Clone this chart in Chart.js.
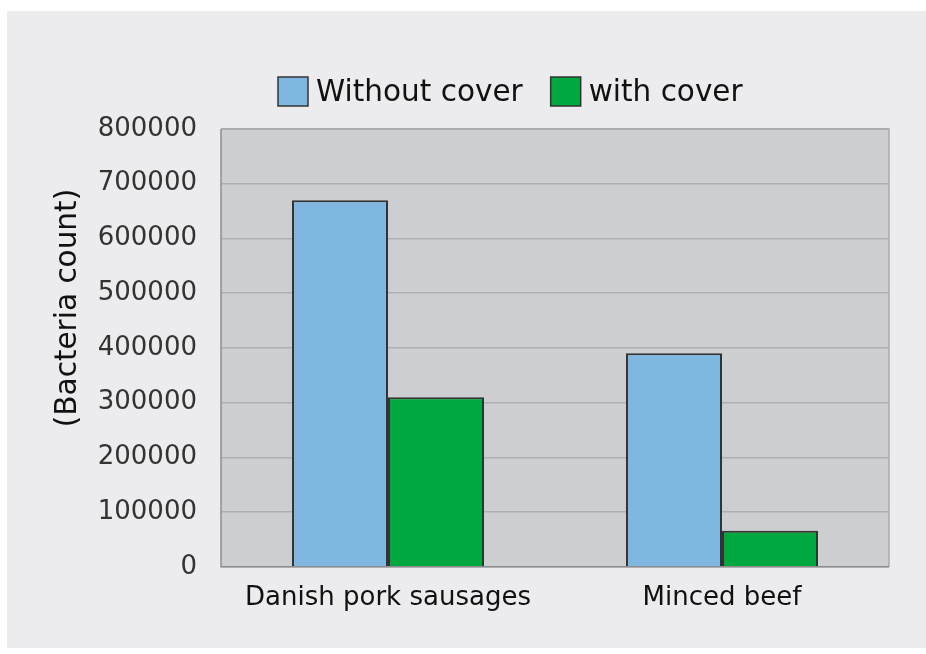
<!DOCTYPE html>
<html>
<head>
<meta charset="utf-8">
<script src="https://cdn.jsdelivr.net/npm/chart.js@4"></script>
<style>
    html, body { margin: 0; padding: 0; background: #ffffff; }
    #panel { position: absolute; left: 7px; top: 11px; width: 919px; height: 637px; background: #ececee; }
</style>
</head>
<body>
<div id="panel"><canvas id="bacteriaChart" width="919" height="637"></canvas></div>
<script>
const categories = ['Danish pork sausages', 'Minced beef'];
const withoutCover = [670000, 390000];
const withCover = [310000, 66000];
const yTicks = [0, 100000, 200000, 300000, 400000, 500000, 600000, 700000, 800000];
const yTitle = '(Bacteria count)';

const FONT = 'DejaVu Sans';

// Gray plot background and frame
const plotFrame = {
    id: 'plotFrame',
    beforeDraw(chart) {
        const { ctx, chartArea: a } = chart;
        ctx.save();
        ctx.fillStyle = '#cdced2';
        ctx.fillRect(a.left, a.top, a.right - a.left, a.bottom - a.top);
        ctx.restore();
    },
    afterDatasetsDraw(chart) {
        const { ctx, chartArea: a } = chart;
        ctx.save();
        ctx.lineWidth = 1.5;
        ctx.strokeStyle = '#a9aaad';
        ctx.beginPath();
        ctx.moveTo(a.left, a.top);
        ctx.lineTo(a.right, a.top);
        ctx.lineTo(a.right, a.bottom);
        ctx.stroke();
        ctx.strokeStyle = '#8c8d90';
        ctx.beginPath();
        ctx.moveTo(a.left, a.top);
        ctx.lineTo(a.left, a.bottom);
        ctx.lineTo(a.right, a.bottom);
        ctx.stroke();
        ctx.restore();
    }
};

// Legend and rotated axis title, placed like the original figure
const legendAndTitle = {
    id: 'legendAndTitle',
    afterDraw(chart) {
        const { ctx } = chart;
        ctx.save();
        ctx.font = '29.5px "' + FONT + '"';
        ctx.textBaseline = 'middle';
        ctx.textAlign = 'left';
        let x = 271;
        const y = 80.5;
        chart.data.datasets.forEach(ds => {
            ctx.fillStyle = ds.backgroundColor;
            ctx.fillRect(x, y - 14.5, 30, 29);
            ctx.strokeStyle = '#333333';
            ctx.lineWidth = 1.5;
            ctx.strokeRect(x, y - 14.5, 30, 29);
            ctx.fillStyle = '#111111';
            ctx.fillText(ds.label, x + 38, y + 2);
            x += 38 + ctx.measureText(ds.label).width + 28;
        });

        ctx.translate(61, 297);
        ctx.rotate(-Math.PI / 2);
        ctx.textAlign = 'center';
        ctx.fillStyle = '#111111';
        ctx.fillText(yTitle, 0, 0);
        ctx.restore();
    }
};

const ctx = document.getElementById('bacteriaChart').getContext('2d');
new Chart(ctx, {
    type: 'bar',
    data: {
        labels: categories,
        datasets: [
            {
                label: 'Without cover',
                data: withoutCover,
                backgroundColor: '#80b7e0',
                borderColor: '#333333',
                borderWidth: 2,
                categoryPercentage: 0.575,
                barPercentage: 1.0
            },
            {
                label: 'with cover',
                data: withCover,
                backgroundColor: '#00a83f',
                borderColor: '#333333',
                borderWidth: 2,
                categoryPercentage: 0.575,
                barPercentage: 1.0
            }
        ]
    },
    options: {
        responsive: false,
        animation: false,
        layout: {
            padding: { top: 118, left: 44, right: 37, bottom: 26 }
        },
        scales: {
            y: {
                min: 0,
                max: 800000,
                afterBuildTicks: scale => {
                    scale.ticks = yTicks.map(v => ({ value: v }));
                },
                afterFit: scale => {
                    scale.width = 170;
                },
                grid: {
                    color: '#aeafb3',
                    lineWidth: 1.5,
                    drawTicks: false
                },
                border: { display: false },
                ticks: {
                    padding: 24,
                    color: '#333333',
                    font: { family: FONT, size: 26 },
                    callback: value => String(value)
                }
            },
            x: {
                grid: { display: false },
                border: { display: false },
                ticks: {
                    padding: 8,
                    color: '#111111',
                    font: { family: FONT, size: 26 }
                }
            }
        },
        plugins: {
            legend: { display: false },
            tooltip: { enabled: false }
        }
    },
    plugins: [plotFrame, legendAndTitle]
});
</script>
</body>
</html>
